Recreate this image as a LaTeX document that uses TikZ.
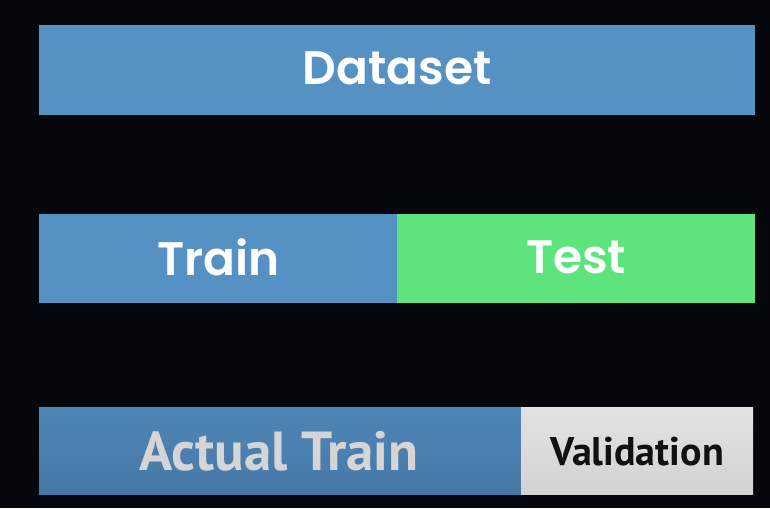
\documentclass[tikz,border=0pt]{standalone}
\usepackage{fontspec}
\setmainfont{Poppins}[BoldFont={Poppins SemiBold}]
\newfontfamily\dinfont{PT Sans}
\definecolor{bgc}{HTML}{06060D}
\definecolor{barblue}{HTML}{5592C3}
\definecolor{bargreen}{HTML}{5DE47E}
\definecolor{actblue}{HTML}{4E85B5}
\definecolor{actbluedark}{HTML}{4779A8}
\definecolor{valgray}{HTML}{E2E2E2}
\definecolor{valgraydark}{HTML}{D2D2D2}
\definecolor{acttext}{HTML}{D5D5D5}
\definecolor{valtext}{HTML}{111111}
\tikzset{
  bar/.style={draw=none, inner sep=0pt, minimum height=#1, anchor=south west},
  toplabel/.style={text=white, font=\fontsize{47}{47}\selectfont\bfseries},
  botlabel/.style={font=\dinfont\fontsize{55}{55}\selectfont\bfseries},
}
\begin{document}
\begin{tikzpicture}[x=1pt,y=1pt]
\fill[bgc] (0,0) rectangle (770,508);
\useasboundingbox (0,0) rectangle (770,508);
% Dataset
\node[bar=90pt, minimum width=716pt, fill=barblue] (dataset) at (39,393) {};
\node[toplabel] (datasettxt) at ([yshift=1pt]dataset.center) {Dataset};
% Train / Test
\node[bar=89pt, minimum width=358pt, fill=barblue] (train) at (39,205) {};
\node[bar=89pt, minimum width=358pt, fill=bargreen] (test) at (397,205) {};
\node[toplabel] (traintxt) at ([yshift=1pt]train.center) {Train};
\node[toplabel] (testtxt) at ([yshift=1pt]test.center) {Test};
% Actual Train / Validation
\shade[top color=actblue, bottom color=actbluedark] (39,13) rectangle (521,100);
\coordinate (act) at (279,56.5);
\shade[top color=valgray, bottom color=valgraydark] (521,13) rectangle (753,100);
\coordinate (val) at (637,56.5);
\node[botlabel, text=acttext] (acttxt) at (act) {Actual Train};
\node[botlabel, text=valtext, font=\dinfont\fontsize{40}{40}\selectfont\bfseries] (valtxt) at (val) {Validation};
\end{tikzpicture}
\end{document}
